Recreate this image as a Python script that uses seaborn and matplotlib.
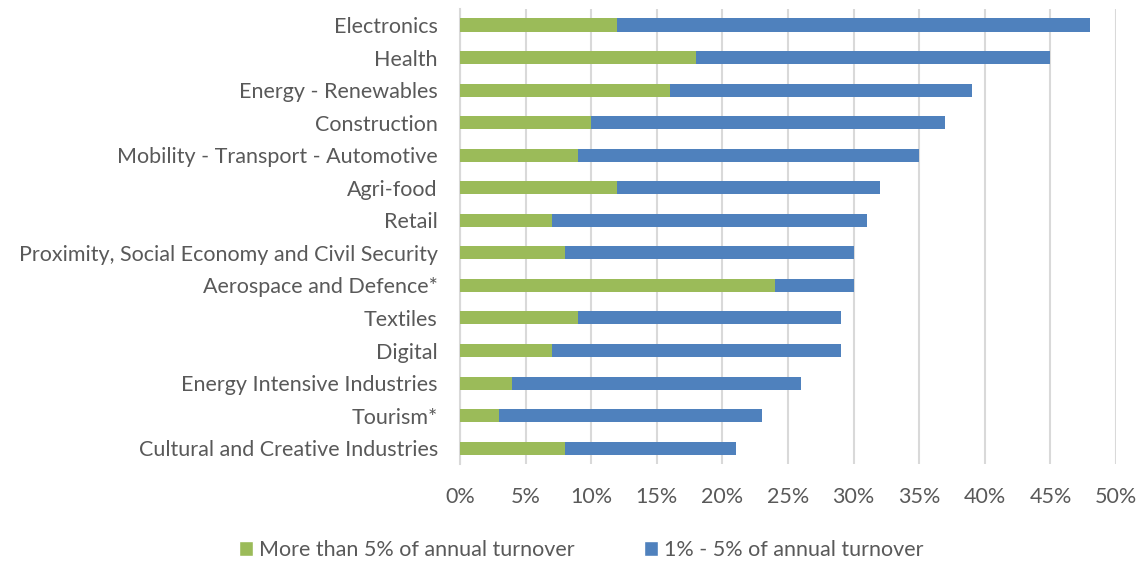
import matplotlib
matplotlib.use("Agg")
import matplotlib.pyplot as plt
from matplotlib.ticker import PercentFormatter, MultipleLocator
from matplotlib.patches import Patch
import seaborn as sns
import pandas as pd

sectors = [
    "Electronics", "Health", "Energy - Renewables", "Construction",
    "Mobility - Transport - Automotive", "Agri-food", "Retail",
    "Proximity, Social Economy and Civil Security", "Aerospace and Defence*",
    "Textiles", "Digital", "Energy Intensive Industries", "Tourism*",
    "Cultural and Creative Industries",
]
more_than_5 = [12, 18, 16, 10, 9, 12, 7, 8, 24, 9, 7, 4, 3, 8]
one_to_5 = [36, 27, 23, 27, 26, 20, 24, 22, 6, 20, 22, 22, 20, 13]
series_labels = ["More than 5% of annual turnover", "1% - 5% of annual turnover"]

GREEN = "#9BBB59"
BLUE = "#4F81BD"
TEXT = "#595959"
GRID = "#D9D9D9"
FS = 15.5

df = pd.DataFrame({"sector": sectors, "green": more_than_5, "blue": one_to_5})
df["total"] = df["green"] + df["blue"]

sns.set_theme(style="white")
plt.rcParams["font.family"] = ["Lato", "DejaVu Sans"]

fig = plt.figure(figsize=(11.4, 5.63), dpi=100)
ax = fig.add_axes([0.4035, 0.175, 0.5755, 0.8095])

# stacked bars: full length in blue, green segment drawn over it
sns.barplot(data=df, x="total", y="sector", orient="h", color=BLUE,
            width=0.4, saturation=1, linewidth=0, ax=ax, zorder=3)
sns.barplot(data=df, x="green", y="sector", orient="h", color=GREEN,
            width=0.4, saturation=1, linewidth=0, ax=ax, zorder=4)

ax.set_xlim(0, 50)
ax.set_ylim(len(sectors) - 0.5, -0.5)
ax.xaxis.set_major_locator(MultipleLocator(5))
ax.xaxis.set_major_formatter(PercentFormatter(decimals=0))
ax.grid(axis="x", color=GRID, linewidth=1.5, zorder=0)
ax.grid(axis="y", visible=False)
for side in ["top", "right", "bottom"]:
    ax.spines[side].set_visible(False)
ax.spines["left"].set_color(GRID)
ax.spines["left"].set_linewidth(1.5)
ax.set_xlabel("")
ax.set_ylabel("")
ax.tick_params(axis="both", length=0, labelsize=FS, colors=TEXT)
ax.tick_params(axis="x", pad=16)
ax.tick_params(axis="y", pad=16)

handles = [Patch(facecolor=GREEN, label=series_labels[0]),
           Patch(facecolor=BLUE, label=series_labels[1])]
fig.legend(handles=handles, loc="center", bbox_to_anchor=(0.51, 0.023),
           ncol=2, frameon=False, fontsize=FS, labelcolor=TEXT,
           handlelength=0.65, handleheight=0.65, handletextpad=0.3,
           columnspacing=3.2)

fig.savefig("out.png", dpi=100, facecolor="white")
